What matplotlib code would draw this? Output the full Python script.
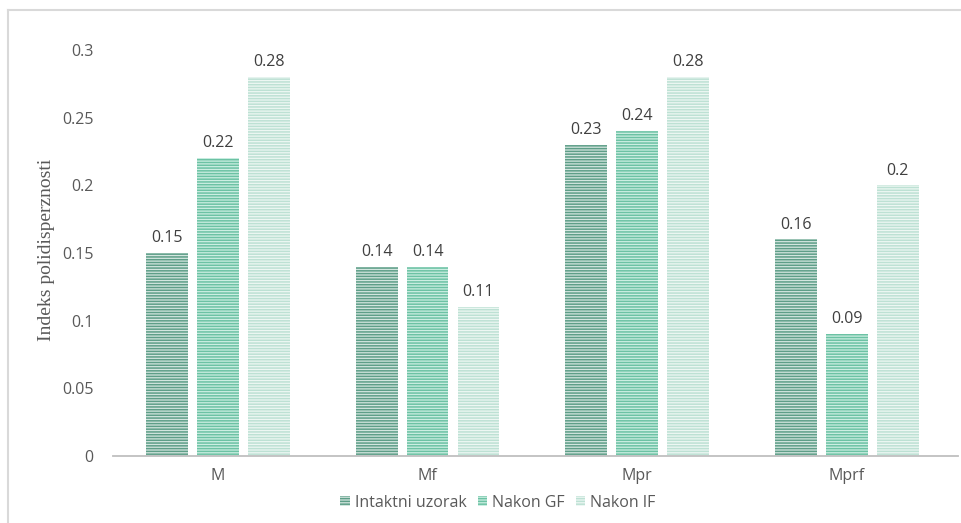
import numpy as np
import matplotlib.pyplot as plt
from matplotlib.lines import Line2D

# Indeks polidisperznosti po uzorku
categories = ['M', 'Mf', 'Mpr', 'Mprf']
intaktni = [0.15, 0.14, 0.23, 0.16]
nakon_gf = [0.22, 0.14, 0.24, 0.09]
nakon_if = [0.28, 0.11, 0.28, 0.20]
series_names = ['Intaktni uzorak', 'Nakon GF', 'Nakon IF']
yticks = [0, 0.05, 0.1, 0.15, 0.2, 0.25, 0.3]
ytick_labels = ['0', '0.05', '0.1', '0.15', '0.2', '0.25', '0.3']

face_colors = ['#d3e6df', '#cceee2', '#edf7f3']
stripe_colors = ['#5e9e88', '#6cc2a4', '#bde1d4']

plt.rcParams['hatch.linewidth'] = 1.1

fig = plt.figure(figsize=(9.61, 5.23), dpi=100)
ax = fig.add_axes([113 / 961, 67 / 523, 845 / 961, 406 / 523])

x = np.arange(len(categories))
width = 0.2
pitch = 0.243
all_series = [intaktni, nakon_gf, nakon_if]

bars = []
for i, vals in enumerate(all_series):
    pos = x + (i - 1) * pitch
    b = ax.bar(pos, vals, width=width, color=face_colors[i],
               edgecolor=stripe_colors[i], hatch='------', linewidth=0,
               label=series_names[i])
    bars.append(b)
    for px, v in zip(pos, vals):
        ax.text(px, v + 0.005, f'{v:g}', ha='center', va='bottom',
                fontsize=11.5, color='#404040', family='Open Sans')

ax.set_xlim(-0.5, len(categories) - 0.5 + 0.03)
ax.set_ylim(0, 0.3)
ax.set_xticks(x)
ax.set_xticklabels(categories, fontsize=11.5, color='#595959', family='Open Sans')
ax.set_yticks(yticks)
ax.set_yticklabels(ytick_labels, fontsize=11.5, color='#595959', family='Open Sans')
ax.tick_params(axis='both', length=0)
ax.tick_params(axis='y', pad=14)
ax.tick_params(axis='x', pad=9)

for s in ['top', 'right', 'left']:
    ax.spines[s].set_visible(False)
ax.spines['bottom'].set_color('#bfbfbf')
ax.spines['bottom'].set_linewidth(1.3)

fig.text(47 / 961, 1 - 250 / 523, 'Indeks polidisperznosti', rotation=90,
         ha='center', va='center', fontsize=14, color='#595959',
         family='Liberation Serif')

leg = fig.legend(handles=bars, labels=series_names, loc='center',
                 bbox_to_anchor=(498 / 961, 1 - 503 / 523), ncol=3,
                 frameon=False, handlelength=0.6,
                 handleheight=0.6, handletextpad=0.3, columnspacing=0.7,
                 prop={'family': 'Open Sans', 'size': 11.5})
for t in leg.get_texts():
    t.set_color('#595959')

# chart area frame (left and top edges)
fig.add_artist(Line2D([8 / 961, 8 / 961], [0, 1 - 10 / 523],
                      transform=fig.transFigure, color='#d9d9d9', lw=1.5))
fig.add_artist(Line2D([8 / 961, 1], [1 - 10 / 523, 1 - 10 / 523],
                      transform=fig.transFigure, color='#d9d9d9', lw=1.5))

fig.savefig('out.png', dpi=100)
